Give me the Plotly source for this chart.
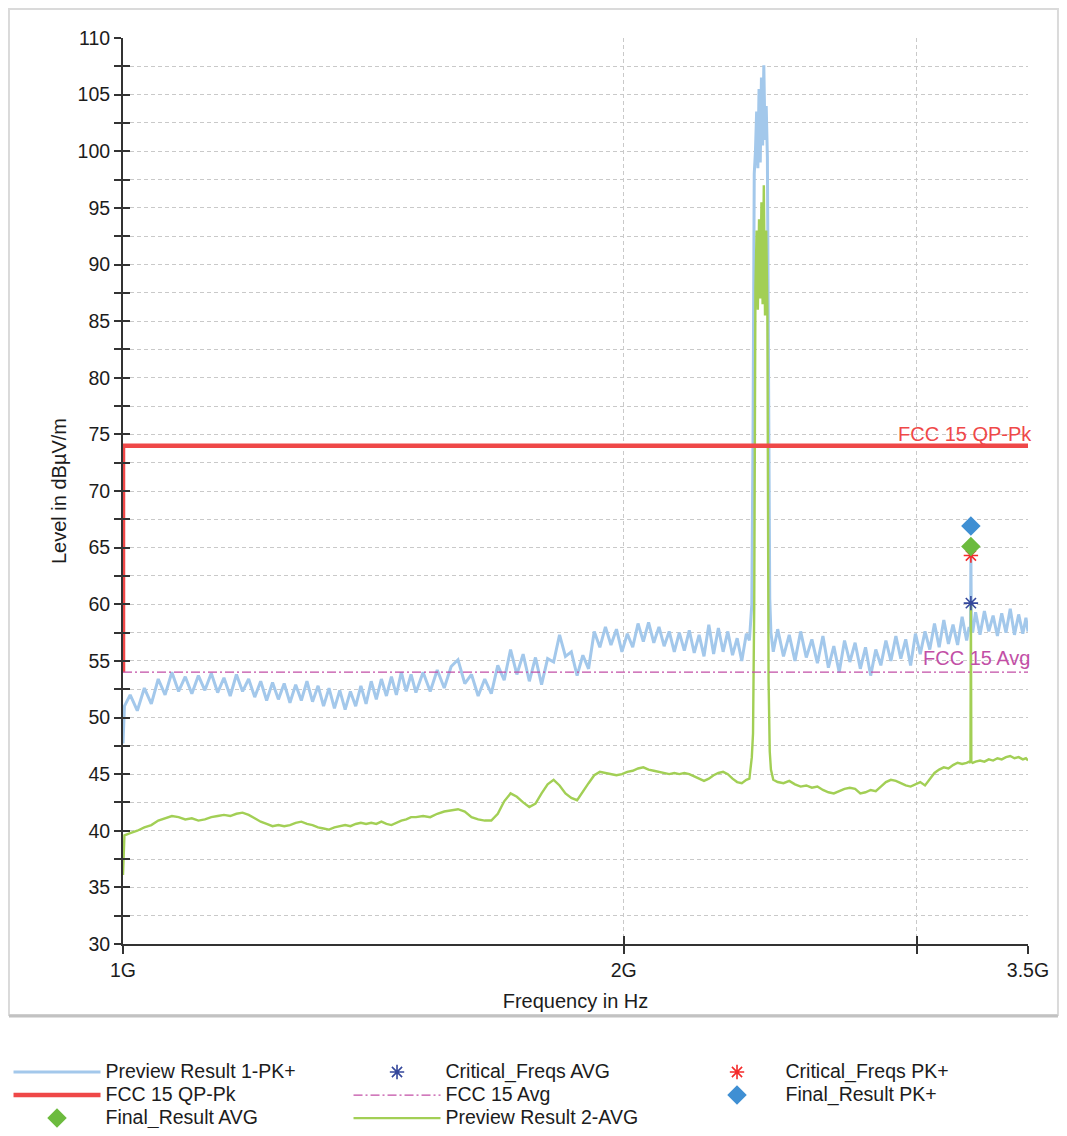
import math
import plotly.graph_objects as go

# ---------------- data ----------------
FREQ_MHZ = [
    1000, 1002, 1010, 1020, 1030, 1040, 1050, 1060, 1070, 1080,
    1090, 1100, 1110, 1120, 1130, 1140, 1150, 1160, 1170, 1180,
    1190, 1200, 1210, 1220, 1230, 1240, 1250, 1260, 1270, 1280,
    1290, 1300, 1310, 1320, 1330, 1340, 1350, 1360, 1370, 1380,
    1390, 1400, 1410, 1420, 1430, 1440, 1450, 1460, 1470, 1480,
    1490, 1500,
    1515, 1530, 1545, 1560, 1575, 1590, 1605, 1620, 1635, 1650,
    1665, 1680, 1695, 1710, 1725, 1740, 1755, 1770, 1785, 1800,
    1815, 1830, 1845, 1860, 1875, 1890, 1905, 1920, 1935, 1950,
    1965, 1980, 1995, 2010, 2025, 2040, 2055, 2070, 2085, 2100,
    2115, 2130, 2145, 2160, 2175, 2190, 2205, 2220, 2235, 2250,
    2265, 2280, 2295, 2310, 2325, 2340, 2355, 2370,
    2380, 2388, 2392, 2396, 2400, 2404, 2408, 2412, 2416, 2420,
    2424, 2428, 2432, 2436, 2440, 2444, 2448, 2452, 2460,
    2475, 2495, 2515, 2535, 2555, 2575, 2595, 2615, 2635, 2655,
    2675, 2695, 2715, 2735, 2755, 2775, 2795, 2815, 2835, 2855,
    2875, 2895, 2915, 2935, 2955, 2975, 2995, 3015, 3035, 3055,
    3075, 3095, 3115, 3135, 3155, 3175, 3195, 3215,
    3226, 3232, 3234, 3236, 3242,
    3255, 3275, 3295, 3315, 3335, 3355, 3375, 3395, 3415, 3435,
    3455, 3475, 3490, 3500,
]

PK_DBUV = [
    47.7, 51.0, 52.0, 50.6, 52.6, 51.2, 53.4, 52.0, 54.0, 52.3,
    53.6, 52.1, 53.7, 52.4, 53.9, 52.2, 53.5, 51.9, 53.8, 52.3,
    53.4, 51.8, 53.2, 51.5, 53.1, 51.6, 53.0, 51.3, 52.9, 51.5,
    53.2, 51.4, 52.8, 51.0, 52.6, 50.8, 52.4, 50.7, 52.3, 51.0,
    52.8, 51.2, 53.2, 51.6, 53.4, 51.9, 53.6, 52.0, 54.0, 52.3,
    53.8, 52.2,
    54.0, 52.3, 54.2, 52.6, 54.5, 55.1, 53.0, 53.8, 51.9, 53.4,
    52.1, 54.6, 53.3, 56.0, 53.8, 55.6, 53.2, 55.3, 52.9, 55.2,
    54.9, 57.3, 55.4, 55.8, 53.7, 55.5, 54.3, 57.6, 56.2, 58.0,
    56.4, 57.8, 55.8, 57.4, 56.2, 58.3, 56.7, 58.4, 56.6, 58.0,
    56.3, 57.6, 55.8, 57.5, 55.9, 57.7, 55.7, 57.3, 55.4, 58.2,
    55.6, 57.9, 55.8, 57.6, 55.5, 57.0, 55.0, 57.4,
    56.8, 60.0, 75.0, 98.0, 100.0, 103.5, 98.5, 105.5, 99.0, 106.5,
    100.5, 107.6, 101.0, 104.0, 99.5, 75.0, 60.5, 57.5, 55.8,
    57.8, 55.4, 57.3, 55.0, 57.6, 55.3, 56.9, 54.8, 57.2, 54.4,
    56.3, 54.0, 56.8, 54.9, 56.6, 54.3, 56.2, 53.7, 56.0, 54.6,
    56.8, 55.0, 57.2, 55.2, 56.9, 54.6, 57.4, 55.6, 57.6, 56.0,
    58.3, 56.2, 58.6, 56.5, 58.2, 56.4, 58.9, 56.8,
    58.0, 57.6, 64.3, 58.2, 57.5,
    59.3, 57.3, 59.4, 57.6, 59.0, 57.2, 59.2, 57.5, 59.6, 57.3,
    59.1, 57.4, 58.8, 57.6,
]

AVG_DBUV = [
    36.1, 39.6, 39.8, 40.0, 40.3, 40.5, 40.9, 41.1, 41.3, 41.2,
    41.0, 41.1, 40.9, 41.0, 41.2, 41.3, 41.4, 41.3, 41.5, 41.6,
    41.4, 41.1, 40.8, 40.6, 40.4, 40.5, 40.4, 40.5, 40.7, 40.8,
    40.6, 40.5, 40.3, 40.2, 40.1, 40.3, 40.4, 40.5, 40.4, 40.6,
    40.7, 40.6, 40.7, 40.6, 40.8, 40.6, 40.5, 40.7, 40.9, 41.0,
    41.2, 41.2,
    41.3, 41.2, 41.5, 41.7, 41.8, 41.9, 41.7, 41.2, 41.0, 40.9,
    40.9, 41.5, 42.6, 43.3, 43.0, 42.5, 42.1, 42.4, 43.3, 44.1,
    44.5, 44.0, 43.3, 42.9, 42.7, 43.4, 44.2, 44.9, 45.2, 45.1,
    45.0, 44.9, 45.0, 45.2, 45.3, 45.5, 45.6, 45.4, 45.3, 45.2,
    45.1, 45.0, 45.1, 45.0, 45.1, 45.0, 44.8, 44.6, 44.4, 44.6,
    44.9, 45.1, 45.2, 45.0, 44.6, 44.3, 44.2, 44.5,
    44.6, 46.5, 48.6, 60.0, 88.0, 93.0, 86.0, 94.0, 87.0, 95.5,
    86.5, 97.0, 85.5, 93.0, 86.0, 53.3, 47.0, 45.4, 44.5,
    44.3, 44.2, 44.4, 44.1, 43.9, 44.0, 43.8, 43.9, 43.6, 43.4,
    43.3, 43.5, 43.7, 43.8, 43.7, 43.3, 43.4, 43.6, 43.5, 43.9,
    44.3, 44.5, 44.4, 44.2, 44.0, 43.9, 44.1, 44.3, 44.0, 44.6,
    45.1, 45.4, 45.6, 45.5, 45.8, 46.0, 45.9, 46.0,
    46.1, 46.0, 60.1, 46.1, 46.0,
    46.1, 46.2, 46.1, 46.3, 46.2, 46.4, 46.3, 46.5, 46.6, 46.4,
    46.5, 46.3, 46.4, 46.2,
]

LIMIT_QP_FREQ_MHZ = [1000, 1000, 3500]
LIMIT_QP_LEVEL = [54, 74, 74]
LIMIT_AVG_FREQ_MHZ = [1000, 3500]
LIMIT_AVG_LEVEL = [54, 54]

CRIT_FREQ_MHZ = [3234]
CRIT_AVG_LEVEL = [60.1]
CRIT_PK_LEVEL = [64.3]
FINAL_FREQ_MHZ = [3234]
FINAL_PK_LEVEL = [66.9]
FINAL_AVG_LEVEL = [65.1]

X_TICK_HZ = [1e9, 2e9, 3e9, 3.5e9]
X_TICK_TEXT = ["1G", "2G", "", "3.5G"]
Y_TICK_VALUES = [30, 32.5, 35, 37.5, 40, 42.5, 45, 47.5, 50, 52.5, 55, 57.5,
                 60, 62.5, 65, 67.5, 70, 72.5, 75, 77.5, 80, 82.5, 85, 87.5,
                 90, 92.5, 95, 97.5, 100, 102.5, 105, 107.5, 110]
Y_TICK_TEXT = ["%g" % v if v % 5 == 0 else "" for v in Y_TICK_VALUES]

assert len(FREQ_MHZ) == len(PK_DBUV) == len(AVG_DBUV)


def hz(values):
    return [v * 1e6 for v in values]


FONT = "Liberation Sans, Arial, sans-serif"
PK_COLOR = "#a3c8eb"
AVG_COLOR = "#a2cf55"
QP_COLOR = "#ef4848"
AVG_LIM_COLOR = "#c24fa6"
CRIT_AVG_COLOR = "#34479b"
CRIT_PK_COLOR = "#f42a2a"


def lg(name):
    return "<span style='font-size:19.5px'>" + name + "</span>"


fig = go.Figure()

fig.add_trace(go.Scatter(x=hz(FREQ_MHZ), y=PK_DBUV, mode="lines",
                         name=lg("Preview Result 1-PK+"), legendrank=1,
                         line=dict(color=PK_COLOR, width=3)))
fig.add_trace(go.Scatter(x=hz(FREQ_MHZ), y=AVG_DBUV, mode="lines",
                         name=lg("Preview Result 2-AVG"), legendrank=8,
                         line=dict(color=AVG_COLOR, width=2.4)))
fig.add_trace(go.Scatter(x=hz(LIMIT_QP_FREQ_MHZ), y=LIMIT_QP_LEVEL, mode="lines",
                         name=lg("FCC 15 QP-Pk"), legendrank=4,
                         line=dict(color=QP_COLOR, width=4.5)))
fig.add_trace(go.Scatter(x=hz(LIMIT_AVG_FREQ_MHZ), y=LIMIT_AVG_LEVEL, mode="lines",
                         name=lg("FCC 15 Avg"), legendrank=5,
                         line=dict(color=AVG_LIM_COLOR, width=1.3, dash="9px,3px,2px,3px")))
fig.add_trace(go.Scatter(x=hz(CRIT_FREQ_MHZ), y=CRIT_AVG_LEVEL, mode="markers",
                         name=lg("Critical_Freqs AVG"), legendrank=2,
                         marker=dict(symbol="asterisk-open", size=12, color=CRIT_AVG_COLOR,
                                     line=dict(color=CRIT_AVG_COLOR, width=1.6))))
fig.add_trace(go.Scatter(x=hz(CRIT_FREQ_MHZ), y=CRIT_PK_LEVEL, mode="markers",
                         name=lg("Critical_Freqs PK+"), legendrank=3,
                         marker=dict(symbol="asterisk-open", size=12, color=CRIT_PK_COLOR,
                                     line=dict(color=CRIT_PK_COLOR, width=1.6))))
fig.add_trace(go.Scatter(x=hz(FINAL_FREQ_MHZ), y=FINAL_PK_LEVEL, mode="markers",
                         name=lg("Final_Result PK+"), legendrank=6,
                         marker=dict(symbol="diamond", size=15, color="#3f8fd3")))
fig.add_trace(go.Scatter(x=hz(FINAL_FREQ_MHZ), y=FINAL_AVG_LEVEL, mode="markers",
                         name=lg("Final_Result AVG"), legendrank=7,
                         marker=dict(symbol="diamond", size=15, color="#6cbb3e")))
# carrier for the secondary (inward tick) axes
fig.add_trace(go.Scatter(x=[X_TICK_HZ[1]], y=[Y_TICK_VALUES[8]], xaxis="x2", yaxis="y2",
                         mode="markers", marker=dict(opacity=0), showlegend=False,
                         hoverinfo="skip"))

XR = [math.log10(X_TICK_HZ[0]), math.log10(X_TICK_HZ[-1])]
YR = [Y_TICK_VALUES[0], Y_TICK_VALUES[-1]]
GRID = dict(showgrid=True, gridcolor="#c9c9c9", gridwidth=1, griddash="4px,3px")
TICKFONT = dict(family=FONT, size=19.5, color="#1c1c1c")

# page body has an 8px margin: figure is 1051x1120 so the page is exactly 1067x1136
fig.update_layout(
    width=1051, height=1120, autosize=False,
    margin=dict(l=115, r=31, t=30, b=184, autoexpand=False),
    paper_bgcolor="white", plot_bgcolor="white",
    font=dict(family=FONT, color="#1c1c1c"),
    xaxis=dict(type="log", range=XR, tickvals=X_TICK_HZ, ticktext=X_TICK_TEXT,
               ticks="outside", ticklen=8, tickwidth=2, tickcolor="#333",
               showline=True, linecolor="#333", linewidth=2, zeroline=False,
               tickfont=TICKFONT, title=dict(text="Frequency in Hz", font=dict(size=20),
                                            standoff=14), **GRID),
    yaxis=dict(range=YR, tickvals=Y_TICK_VALUES, ticktext=Y_TICK_TEXT,
               ticks="outside", ticklen=7, tickwidth=2, tickcolor="#333",
               showline=True, linecolor="#333", linewidth=2, zeroline=False,
               tickfont=TICKFONT, title=dict(text="Level in dBµV/m", font=dict(size=20),
                                            standoff=6), **GRID),
    xaxis2=dict(type="log", range=XR, overlaying="x", anchor="y", side="bottom",
                tickvals=X_TICK_HZ[1:], ticks="inside", ticklen=8, tickwidth=2,
                tickcolor="#333", showticklabels=False, showgrid=False,
                showline=False, zeroline=False),
    yaxis2=dict(range=YR, overlaying="y", anchor="x", side="left",
                tickvals=Y_TICK_VALUES, ticks="inside", ticklen=7, tickwidth=2,
                tickcolor="#333", showticklabels=False, showgrid=False,
                showline=False, zeroline=False),
    showlegend=True,
    legend=dict(orientation="h", x=-0.1265, xanchor="left", y=-0.2114, yanchor="bottom",
                entrywidth=238, entrywidthmode="pixels", itemwidth=87,
                traceorder="normal", tracegroupgap=0,
                font=dict(family=FONT, size=15.4, color="#1c1c1c"),
                bgcolor="rgba(0,0,0,0)"),
    annotations=[
        dict(text="FCC 15 QP-Pk", xref="paper", x=1, xanchor="right", xshift=6,
             yref="y", y=LIMIT_QP_LEVEL[-1], yanchor="bottom", yshift=-1,
             showarrow=False, font=dict(family=FONT, size=20, color=QP_COLOR)),
        dict(text="FCC 15 Avg", xref="paper", x=1, xanchor="right", xshift=4,
             yref="y", y=LIMIT_AVG_LEVEL[-1], yanchor="bottom", yshift=1,
             showarrow=False, font=dict(family=FONT, size=20, color=AVG_LIM_COLOR)),
    ],
    shapes=[
        dict(type="rect", xref="paper", yref="paper", x0=-0.126, x1=1.0331,
             y0=-0.0784, y1=1.032, line=dict(color="#dadada", width=2), layer="below"),
        dict(type="line", xref="paper", yref="paper", x0=-0.126, x1=1.0331,
             y0=-0.0795, y1=-0.0795, line=dict(color="#c2c2c2", width=3), layer="below"),
    ],
)

fig.write_html("out.html")
